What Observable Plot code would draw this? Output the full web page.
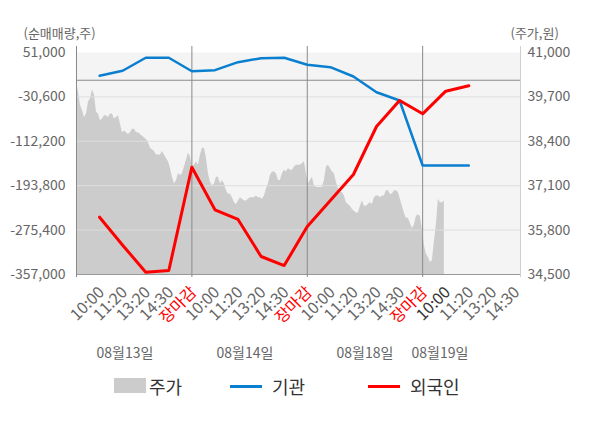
<!DOCTYPE html>
<html><head><meta charset="utf-8">
<script src="https://cdn.jsdelivr.net/npm/d3@7"></script>
<script src="https://cdn.jsdelivr.net/npm/@observablehq/plot@0.6"></script>
<style>
body{margin:0;background:#fff;font-family:'Noto Sans CJK KR','Noto Sans',sans-serif;}
#wrap{position:relative;width:600px;height:428px;overflow:hidden;}
.lg{position:absolute;font-size:18px;color:#333;line-height:20px;top:376px;}
.sw{position:absolute;}
</style></head><body><div id="wrap"><div id="chart"></div></div>
<script>
// ---- data ----
const tickLabels = ["10:00","11:20","13:20","14:30","장마감",
                    "10:00","11:20","13:20","14:30","장마감",
                    "10:00","11:20","13:20","14:30","장마감",
                    "10:00","11:20","13:20","14:30"];
const dayLabels = ["08월13일","08월14일","08월18일","08월19일"];
const dayLabelAt = [2.1, 7.3, 12.5, 15.75];
const dayBreaks = [5, 10, 15];
const volTicks = [51000, -30600, -112200, -193800, -275400, -357000];
const priceTicks = [41000, 39700, 38400, 37100, 35800, 34500];
// 기관 net buying (shares), one per label slot
const instValues = [8200, 17400, 41300, 41300, 16600,
                    18500, 33200, 40500, 41300, 28400,
                    24000, 6900, -22000, -37200, -156700,
                    -156700, -156700];
// 외국인 net buying (shares)
const foreignValues = [-251700, -303100, -352800, -349600, -159800,
                       -238100, -255900, -323900, -340500, -268800,
                       -221000, -173200, -85000, -37200, -61700,
                       -20100, -10200];
// 주가 (won), intraday
const priceValues = [
40100,39850,39450,39300,39100,39200,39550,39650,39900,39750,
39250,39200,39000,39050,39150,39150,39100,39200,39200,39050,
39100,39150,38900,38650,38700,38650,38600,38650,38750,38750,
38650,38650,38600,38550,38500,38450,38350,38200,38150,38100,
38000,38000,38000,38100,38000,37900,37800,37600,37350,37150,
37250,37450,37400,37450,37650,37850,38050,37950,37650,37700,
37800,37700,38000,38200,38200,37900,37450,37200,37100,37150,
37350,37350,37150,37250,37150,36950,36850,36850,36750,36600,
36550,36650,36750,36700,36650,36650,36700,36750,36750,36750,
36800,36750,36750,36700,36800,37000,37150,37400,37500,37500,
37450,37250,37250,37450,37550,37500,37600,37550,37550,37650,
37700,37700,37700,37750,37800,37450,37150,37250,37350,37100,
37050,37050,37050,37050,37250,37650,37700,37600,37500,37450,
37200,37000,36900,36900,36800,36600,36550,36500,36400,36350,
36300,36300,36500,36650,36500,36500,36550,36600,36550,36750,
36800,36800,36750,36800,36800,36950,36950,36850,36850,36950,
36950,36900,36700,36500,36300,36150,36150,36000,35850,35950,
36200,36250,36200,35850,35350,35100,35000,34850,34900,35450,
35950,36700,36600,36600,36650];

// ---- scales helpers ----
const yMin = -357000, yMax = 51000, pMin = 34500, pMax = 41000;
const xMax = 19.24, priceEnd = 15.94;
const toY = p => yMin + (p - pMin) / (pMax - pMin) * (yMax - yMin);
const fromY = v => pMin + (v - yMin) / (yMax - yMin) * (pMax - pMin);
const fmtVol = d => (d < 0 ? "-" : "") + d3.format(",")(Math.abs(d));
const pxV = (yMax - yMin) / 222;

const priceData = priceValues.map((p, i) => ({x: i * priceEnd / (priceValues.length - 1), y: toY(p)}));
const instData = instValues.map((v, i) => ({x: i + 1, y: v}));
const forData = foreignValues.map((v, i) => ({x: i + 1, y: v}));
const slots = tickLabels.map((d, i) => i + 1);
const currentSlot = 16;
const redSlots = slots.filter(s => tickLabels[s - 1] === "장마감");
const darkSlots = slots.filter(s => s === currentSlot);
const graySlots = slots.filter(s => !redSlots.includes(s) && !darkSlots.includes(s));
const tickText = (data, fill) => Plot.text(data, {
  x: d => d, y: yMin, text: d => tickLabels[d - 1], rotate: -45, textAnchor: "end",
  dx: 2, dy: 15, fill, fontSize: 16
});

const chart = Plot.plot({
  width: 600, height: 365,
  marginLeft: 76, marginRight: 80, marginTop: 52, marginBottom: 91,
  x: {domain: [0, xMax], axis: null},
  y: {domain: [yMin, yMax], axis: null},
  style: {fontFamily: "'Noto Sans CJK KR','Noto Sans',sans-serif", fontSize: "14px", background: "transparent", overflow: "visible"},
  marks: [
    Plot.frame({fill: "#f4f4f4", stroke: null}),
    Plot.areaY(priceData, {x: "x", y1: yMin, y2: "y", fill: "#cccccc"}),
    Plot.ruleY(volTicks.slice(1, -1), {stroke: "#dedede"}),
    Plot.ruleY([0], {stroke: "#8a8a8a"}),
    Plot.ruleY([yMin], {stroke: "#999"}),
    Plot.ruleX([0, ...dayBreaks], {y1: yMin - 3 * pxV, y2: yMax + 6 * pxV, stroke: "#8a8a8a"}),
    Plot.ruleX([xMax], {y1: yMin - 3 * pxV, y2: yMax + 6 * pxV, stroke: "#cfcfcf"}),
    Plot.line(instData, {x: "x", y: "y", stroke: "#0a7fd0", strokeWidth: 2.5}),
    Plot.line(forData, {x: "x", y: "y", stroke: "#ff0000", strokeWidth: 3}),
    Plot.axisY(volTicks, {anchor: "left", tickSize: 0, tickPadding: 11, tickFormat: fmtVol, fill: "#666", fontSize: 14, label: null}),
    Plot.axisY(priceTicks.map(toY), {anchor: "right", tickSize: 0, tickPadding: 7, tickFormat: v => d3.format(",")(Math.round(fromY(v) / 100) * 100), fill: "#666", fontSize: 14, label: null}),
    tickText(graySlots, "#666"),
    tickText(redSlots, "#ff0000"),
    tickText(darkSlots, "#333"),
    Plot.text(dayLabels, {x: (d, i) => dayLabelAt[i], y: yMin, dy: 79, fill: "#666", fontSize: 14}),
    Plot.text(["(순매매량,주)"], {frameAnchor: "top-left", dx: -53, dy: -24, textAnchor: "start", fill: "#666", fontSize: 13}),
    Plot.text(["(주가,원)"], {frameAnchor: "top-right", dx: -10, dy: -24, textAnchor: "start", fill: "#666", fontSize: 13})
  ]
});
document.getElementById("chart").appendChild(chart);

// ---- legend ----
const wrap = document.getElementById("wrap");
const legend = [
  {label: "주가", kind: "box", color: "#cccccc", sx: 114, tx: 149},
  {label: "기관", kind: "line", color: "#0a7fd0", sx: 230, tx: 272},
  {label: "외국인", kind: "line", color: "#ff0000", sx: 368, tx: 410}
];
legend.forEach(l => {
  const s = document.createElement("div");
  s.className = "sw";
  s.style.left = l.sx + "px"; s.style.width = "32px"; s.style.background = l.color;
  if (l.kind === "box") { s.style.top = "378px"; s.style.height = "15px"; }
  else { s.style.top = "385px"; s.style.height = "3px"; }
  wrap.appendChild(s);
  const t = document.createElement("div");
  t.className = "lg"; t.style.left = l.tx + "px"; t.textContent = l.label;
  wrap.appendChild(t);
});
</script></body></html>
